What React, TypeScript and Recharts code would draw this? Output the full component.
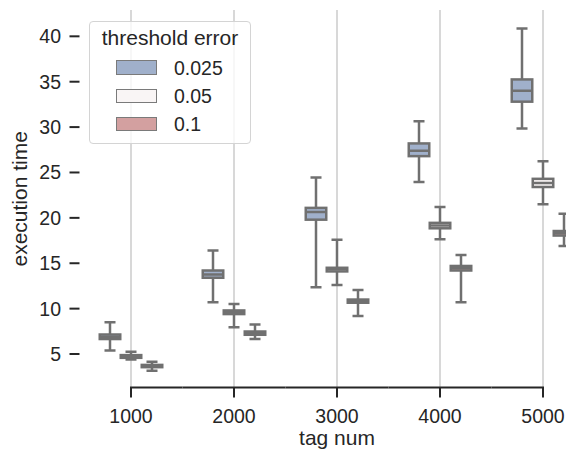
import { ComposedChart, Bar, XAxis, YAxis, CartesianGrid, Legend } from 'recharts';

const FONT = '"Liberation Sans", Arial, sans-serif';
const INK = '#262626';
const LINE = '#707070';

const tagNums = ['1000', '2000', '3000', '4000', '5000'];
const thresholds = ['0.025', '0.05', '0.1'];
const fills = ['#a0b0cb', '#f9f5f5', '#d3a0a0'];
const yTicks = [5, 10, 15, 20, 25, 30, 35, 40];

// each entry: [whisker low, q1, median, q3, whisker high]
const stats025 = [
  [5.4, 6.65, 6.9, 7.15, 8.5],
  [10.7, 13.4, 13.75, 14.2, 16.4],
  [12.35, 19.8, 20.65, 21.1, 24.45],
  [23.95, 26.8, 27.4, 28.2, 30.65],
  [29.85, 32.8, 34.0, 35.25, 40.85],
];
const stats05 = [
  [4.4, 4.58, 4.72, 4.88, 5.25],
  [7.95, 9.4, 9.6, 9.8, 10.5],
  [12.6, 14.1, 14.35, 14.5, 17.6],
  [17.65, 18.85, 19.15, 19.45, 21.2],
  [21.5, 23.4, 23.85, 24.3, 26.25],
];
const stats1 = [
  [3.15, 3.55, 3.7, 3.8, 4.15],
  [6.65, 7.12, 7.3, 7.48, 8.25],
  [9.2, 10.65, 10.85, 11.0, 12.05],
  [10.7, 14.2, 14.45, 14.7, 15.9],
  [16.9, 18.05, 18.3, 18.55, 20.45],
];

const statKeys = ['t025', 't05', 't1'];
const rows = tagNums.map((tag, i) => ({ tag, t025: stats025[i], t05: stats05[i], t1: stats1[i] }));

function BoxShape(props: any) {
  const { x, y, width, height, payload, statKey, color } = props;
  const s: number[] = payload[statKey];
  const lo = s[0], hi = s[4];
  // y is the pixel of hi, y + height the pixel of lo (from the bar's scale)
  const py = (v: number) => y + ((hi - v) / (hi - lo)) * height;
  const cx = x + width / 2;
  const bw = 20.5, cw = 11;
  return (
    <g stroke={LINE} strokeWidth={2.5}>
      <line x1={cx} x2={cx} y1={py(hi)} y2={py(s[3])} />
      <line x1={cx} x2={cx} y1={py(s[1])} y2={py(lo)} />
      <line x1={cx - cw / 2} x2={cx + cw / 2} y1={py(hi)} y2={py(hi)} />
      <line x1={cx - cw / 2} x2={cx + cw / 2} y1={py(lo)} y2={py(lo)} />
      <rect x={cx - bw / 2} y={py(s[3])} width={bw} height={py(s[1]) - py(s[3])} fill={color} />
      <line x1={cx - bw / 2} x2={cx + bw / 2} y1={py(s[2])} y2={py(s[2])} />
    </g>
  );
}

// tick + the piece of trimmed spine around it (spine runs first tick .. last tick)
function XTick(props: any) {
  const { x, y, payload, index, visibleTicksCount } = props;
  const half = typeof payload.offset === 'number' && payload.offset > 0 ? payload.offset : 51.5;
  const left = index === 0 ? x - 1 : x - half;
  const right = index === visibleTicksCount - 1 ? x + 1 : x + half;
  return (
    <g>
      <line x1={left} x2={right} y1={y} y2={y} stroke={INK} strokeWidth={2} />
      <line x1={x} x2={x} y1={y} y2={y + 10} stroke={INK} strokeWidth={2} />
      <text x={x} y={y + 35.7} textAnchor="middle" fill={INK} fontSize={19.5} fontFamily={FONT}>
        {payload.value}
      </text>
    </g>
  );
}

function ThresholdLegend() {
  return (
    <div style={{
      width: 162, height: 123, boxSizing: 'border-box', border: '1px solid #d4d4d4',
      borderRadius: 4, background: 'rgba(255,255,255,0.8)', fontFamily: FONT, color: INK,
    }}>
      <div style={{ marginTop: 2, height: 28, lineHeight: '28px', textAlign: 'center', fontSize: 21 }}>
        threshold error
      </div>
      <div style={{ marginTop: 1.4 }}>
        {thresholds.map((t, i) => (
          <div key={t} style={{ height: 28.3, display: 'flex', alignItems: 'center', paddingLeft: 26 }}>
            <div style={{ width: 41, height: 14.5, boxSizing: 'border-box', border: '1px solid #7a7a7a', background: fills[i] }} />
            <span style={{ marginLeft: 17, fontSize: 19.5, lineHeight: '20px' }}>{t}</span>
          </div>
        ))}
      </div>
    </div>
  );
}

function YLabel(props: any) {
  const vb = props.viewBox;
  const tx = vb.x + 7.5;
  const ty = vb.y + vb.height / 2;
  return (
    <text x={tx} y={ty} transform={`rotate(-90 ${tx} ${ty})`} textAnchor="middle"
      fill={INK} fontSize={21} fontFamily={FONT}>execution time</text>
  );
}

function XLabel(props: any) {
  const vb = props.viewBox;
  return (
    <text x={vb.x + vb.width / 2} y={vb.y + 57.4} textAnchor="middle"
      fill={INK} fontSize={21} fontFamily={FONT}>tag num</text>
  );
}

export default function App() {
  return (
    <div style={{ position: 'fixed', left: 0, top: 0, width: 566, height: 454, overflow: 'hidden', background: '#fff' }}>
      <ComposedChart width={600} height={454} data={rows} barSize={21} barGap={0}
        margin={{ top: 10, right: 5.5, bottom: 6.4, left: 19.5 }}>
        {/* syncWithTicks: no extra lines at the plot edges */}
        <CartesianGrid horizontal={false} syncWithTicks stroke="#cfcfcf" strokeWidth={1.6} />
        <XAxis dataKey="tag" height={60} axisLine={false} tickLine={false} tickSize={0} tickMargin={0}
          tick={<XTick />} label={<XLabel />} />
        <YAxis type="number" width={60} domain={[1.3, 42.9]} allowDataOverflow ticks={yTicks}
          axisLine={false} tickLine={{ stroke: INK, strokeWidth: 2 }} tickSize={10} tickMargin={8.5}
          tick={{ fill: INK, fontSize: 19.5, fontFamily: FONT }} label={<YLabel />} />
        {thresholds.map((t, i) => (
          <Bar key={t} name={t} fill={fills[i]} isAnimationActive={false}
            dataKey={(r: any) => [r[statKeys[i]][0], r[statKeys[i]][4]]}
            shape={(p: any) => <BoxShape {...p} statKey={statKeys[i]} color={fills[i]} />} />
        ))}
        <Legend content={<ThresholdLegend />} layout="vertical" align="center" verticalAlign="middle"
          wrapperStyle={{ left: 89, top: 21, width: 162, height: 123 }} />
      </ComposedChart>
    </div>
  );
}
